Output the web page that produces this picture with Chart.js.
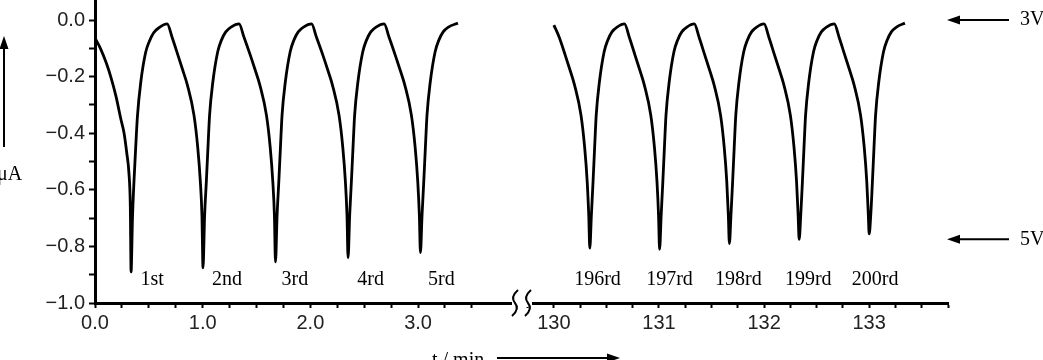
<!DOCTYPE html>
<html>
<head>
<meta charset="utf-8">
<script src="https://cdn.jsdelivr.net/npm/chart.js@4.4.1/dist/chart.umd.min.js"></script>
<style>
  html, body { margin: 0; padding: 0; background: #fff; }
  canvas { display: block; }
</style>
</head>
<body>
<canvas id="pulseChart" width="1043" height="360"></canvas>
<script>
// cycles 1-5 (t / min, current / uA)
const leftTime = [
    0, 0.05, 0.105, 0.15, 0.195, 0.24, 0.27, 0.295, 0.315, 0.328, 0.335,
    0.348, 0.362, 0.378, 0.394, 0.425, 0.47, 0.505, 0.545, 0.595, 0.67,
    0.715, 0.77, 0.813, 0.858, 0.919, 0.954, 0.978, 0.993, 1.003,
    1.018, 1.034, 1.049, 1.064, 1.094, 1.139, 1.173, 1.214, 1.263, 1.338,
    1.383, 1.442, 1.486, 1.531, 1.592, 1.627, 1.651, 1.666, 1.676,
    1.691, 1.707, 1.722, 1.737, 1.767, 1.812, 1.846, 1.887, 1.936, 2.011,
    2.056, 2.116, 2.16, 2.205, 2.266, 2.301, 2.325, 2.34, 2.35,
    2.365, 2.381, 2.396, 2.411, 2.441, 2.486, 2.52, 2.561, 2.61, 2.685,
    2.73, 2.788, 2.832, 2.877, 2.938, 2.973, 2.997, 3.012, 3.022,
    3.037, 3.053, 3.068, 3.083, 3.113, 3.158, 3.192, 3.233, 3.282, 3.37
];
const leftCurrent = [
    -0.064, -0.10, -0.152, -0.205, -0.27, -0.35, -0.40, -0.47, -0.54, -0.66, -0.89,
    -0.70, -0.57, -0.45, -0.34, -0.22, -0.115, -0.075, -0.045, -0.027, -0.014,
    -0.06, -0.124, -0.175, -0.23, -0.336, -0.45, -0.57, -0.69, -0.876,
    -0.69, -0.57, -0.45, -0.336, -0.22, -0.113, -0.072, -0.042, -0.025, -0.014,
    -0.06, -0.124, -0.175, -0.23, -0.336, -0.45, -0.57, -0.69, -0.855,
    -0.69, -0.57, -0.45, -0.336, -0.22, -0.113, -0.072, -0.042, -0.025, -0.014,
    -0.06, -0.124, -0.175, -0.23, -0.336, -0.45, -0.57, -0.69, -0.84,
    -0.69, -0.57, -0.45, -0.336, -0.22, -0.113, -0.072, -0.042, -0.025, -0.014,
    -0.06, -0.124, -0.175, -0.23, -0.336, -0.45, -0.57, -0.69, -0.822,
    -0.69, -0.57, -0.45, -0.336, -0.22, -0.113, -0.072, -0.042, -0.025, -0.011
];

// cycles 196-200
const rightTime = [
    130.0, 130.05, 130.108, 130.152, 130.197, 130.258, 130.293, 130.317, 130.332, 130.342,
    130.357, 130.373, 130.388, 130.403, 130.433, 130.478, 130.512, 130.553, 130.602, 130.672,
    130.717, 130.772, 130.816, 130.861, 130.922, 130.957, 130.981, 130.996, 131.006,
    131.021, 131.037, 131.052, 131.067, 131.097, 131.142, 131.176, 131.217, 131.266, 131.336,
    131.381, 131.436, 131.48, 131.525, 131.586, 131.621, 131.645, 131.66, 131.67,
    131.685, 131.701, 131.716, 131.731, 131.761, 131.806, 131.84, 131.881, 131.93, 132.0,
    132.045, 132.1, 132.144, 132.189, 132.25, 132.285, 132.309, 132.324, 132.334,
    132.349, 132.365, 132.38, 132.395, 132.425, 132.47, 132.504, 132.545, 132.594, 132.668,
    132.713, 132.768, 132.812, 132.857, 132.918, 132.953, 132.977, 132.992, 133.0,
    133.015, 133.031, 133.046, 133.061, 133.091, 133.136, 133.17, 133.211, 133.26, 133.34
];
const rightCurrent = [
    -0.018, -0.06, -0.124, -0.175, -0.23, -0.336, -0.45, -0.57, -0.69, -0.806,
    -0.69, -0.57, -0.45, -0.336, -0.22, -0.113, -0.072, -0.042, -0.025, -0.014,
    -0.06, -0.124, -0.175, -0.23, -0.336, -0.45, -0.57, -0.69, -0.81,
    -0.69, -0.57, -0.45, -0.336, -0.22, -0.113, -0.072, -0.042, -0.025, -0.014,
    -0.06, -0.124, -0.175, -0.23, -0.336, -0.45, -0.57, -0.69, -0.79,
    -0.69, -0.57, -0.45, -0.336, -0.22, -0.113, -0.072, -0.042, -0.025, -0.014,
    -0.06, -0.124, -0.175, -0.23, -0.336, -0.45, -0.57, -0.69, -0.775,
    -0.69, -0.57, -0.45, -0.336, -0.22, -0.113, -0.072, -0.042, -0.025, -0.014,
    -0.06, -0.124, -0.175, -0.23, -0.336, -0.45, -0.57, -0.69, -0.756,
    -0.69, -0.57, -0.45, -0.336, -0.22, -0.113, -0.072, -0.042, -0.025, -0.011
];

const cycleLabels = ['1st', '2nd', '3rd', '4rd', '5rd', '196rd', '197rd', '198rd', '199rd', '200rd'];
const cycleLabelTime = [0.53, 1.225, 1.856, 2.56, 3.216, 130.415, 131.1, 131.755, 132.42, 133.056];

const xTicks = [
    0, 0.25, 0.5, 0.75, 1, 1.25, 1.5, 1.75, 2, 2.25, 2.5, 2.75, 3, 3.25, 3.5,
    129.75, 130, 130.25, 130.5, 130.75, 131, 131.25, 131.5, 131.75, 132,
    132.25, 132.5, 132.75, 133, 133.25, 133.5, 133.75
];
const xTickLabels = { 0: '0.0', 1: '1.0', 2: '2.0', 3: '3.0', 130: '130', 131: '131', 132: '132', 133: '133' };
const yTicks = [-1.0, -0.9, -0.8, -0.7, -0.6, -0.5, -0.4, -0.3, -0.2, -0.1, 0.0];
const yTickLabels = ['\u22121.0', '', '\u22120.8', '', '\u22120.6', '', '\u22120.4', '', '\u22120.2', '', '0.0'];

const voltMarks = [{ text: '3V', value: 0.0 }, { text: '5V', value: -0.775 }];

// broken time axis: 0..3.75 min, then 129.75..133.75 min
function toAxis(t) {
    return t < 100 ? t : 4.261 + (t - 130) * 0.976;
}

class BrokenAxis extends Chart.LinearScale {
    static id = 'broken';
    getPixelForValue(value) {
        if (value === null || value === undefined) return NaN;
        return this.getPixelForDecimal(toAxis(value) / toAxis(this.max));
    }
}
Chart.register(BrokenAxis);

function arrow(ctx, x1, y1, x2, y2) {
    const a = Math.atan2(y2 - y1, x2 - x1);
    const len = 13, half = 4.5;
    ctx.beginPath();
    ctx.moveTo(x1, y1);
    ctx.lineTo(x2 - len * 0.7 * Math.cos(a), y2 - len * 0.7 * Math.sin(a));
    ctx.stroke();
    ctx.beginPath();
    ctx.moveTo(x2, y2);
    ctx.lineTo(x2 - len * Math.cos(a) - half * Math.sin(a), y2 - len * Math.sin(a) + half * Math.cos(a));
    ctx.lineTo(x2 - len * Math.cos(a) + half * Math.sin(a), y2 - len * Math.sin(a) - half * Math.cos(a));
    ctx.closePath();
    ctx.fill();
}

const extras = {
    id: 'extras',
    afterDraw(chart) {
        const ctx = chart.ctx;
        const xs = chart.scales.x, ys = chart.scales.y;
        ctx.save();
        ctx.fillStyle = '#000';
        ctx.strokeStyle = '#000';

        // cycle labels
        ctx.font = '20px "Liberation Serif", "DejaVu Serif", serif';
        ctx.textAlign = 'center';
        ctx.textBaseline = 'middle';
        cycleLabels.forEach((txt, i) => {
            ctx.fillText(txt, xs.getPixelForValue(cycleLabelTime[i]), ys.getPixelForValue(-0.918));
        });

        // voltage markers on the right
        ctx.lineWidth = 2;
        ctx.textAlign = 'left';
        voltMarks.forEach(m => {
            const y = ys.getPixelForValue(m.value);
            arrow(ctx, 1009, y, 947, y);
            ctx.fillText(m.text, 1020, y);
        });

        // axis break
        const bottom = chart.chartArea.bottom;
        ctx.fillStyle = '#fff';
        ctx.fillRect(512, bottom - 4, 20, 8);
        ctx.fillStyle = '#000';
        ctx.lineWidth = 2;
        [515, 528].forEach(cx => {
            ctx.beginPath();
            ctx.moveTo(cx + 3, bottom - 13);
            ctx.quadraticCurveTo(cx - 5, bottom - 6, cx, bottom);
            ctx.quadraticCurveTo(cx + 5, bottom + 6, cx - 3, bottom + 13);
            ctx.stroke();
        });

        // y title with arrow (cut at the left edge)
        arrow(ctx, 4, 147, 4, 36);
        ctx.textAlign = 'left';
        ctx.textBaseline = 'alphabetic';
        ctx.fillText('\u03bcA', -3, 180);

        // x title with arrow (cut at the bottom edge)
        ctx.fillText('t / min', 432, 366);
        arrow(ctx, 497, 358, 620, 358);
        ctx.restore();
    }
};

const tickFont = { family: '"Liberation Sans", Arial, sans-serif', size: 20 };

new Chart(document.getElementById('pulseChart').getContext('2d'), {
    type: 'line',
    data: {
        datasets: [
            {
                data: leftTime.map((t, i) => ({ x: t, y: leftCurrent[i] })),
                borderColor: '#000',
                borderWidth: 2.8,
                pointRadius: 0,
                cubicInterpolationMode: 'monotone'
            },
            {
                data: rightTime.map((t, i) => ({ x: t, y: rightCurrent[i] })),
                borderColor: '#000',
                borderWidth: 2.8,
                pointRadius: 0,
                cubicInterpolationMode: 'monotone'
            }
        ]
    },
    options: {
        responsive: false,
        animation: false,
        devicePixelRatio: 1,
        events: [],
        layout: { padding: { left: 0, right: 95, top: 0, bottom: 0 } },
        plugins: { legend: { display: false }, tooltip: { enabled: false } },
        scales: {
            x: {
                type: 'broken',
                min: 0,
                max: 133.75,
                afterBuildTicks: s => { s.ticks = xTicks.map(v => ({ value: v })); },
                afterFit: s => { s.height = 57; s.paddingLeft = 0; s.paddingRight = 0; },
                border: { color: '#000', width: 3 },
                grid: { drawOnChartArea: false, tickLength: 5, tickWidth: 2, tickColor: '#000' },
                ticks: {
                    autoSkip: false,
                    maxRotation: 0,
                    padding: 3,
                    color: '#222',
                    font: tickFont,
                    callback: (v, i) => xTickLabels[xTicks[i]] || ''
                }
            },
            y: {
                type: 'linear',
                min: -1.0,
                max: 0.0707,
                afterBuildTicks: s => { s.ticks = yTicks.map(v => ({ value: v })); },
                afterFit: s => { s.width = 95; s.paddingTop = 0; s.paddingBottom = 0; },
                border: { color: '#000', width: 3 },
                grid: { drawOnChartArea: false, tickLength: 6, tickWidth: 2, tickColor: '#000' },
                ticks: {
                    autoSkip: false,
                    padding: 4,
                    color: '#222',
                    font: tickFont,
                    callback: (v, i) => yTickLabels[i]
                }
            }
        }
    },
    plugins: [extras]
});
</script>
</body>
</html>
